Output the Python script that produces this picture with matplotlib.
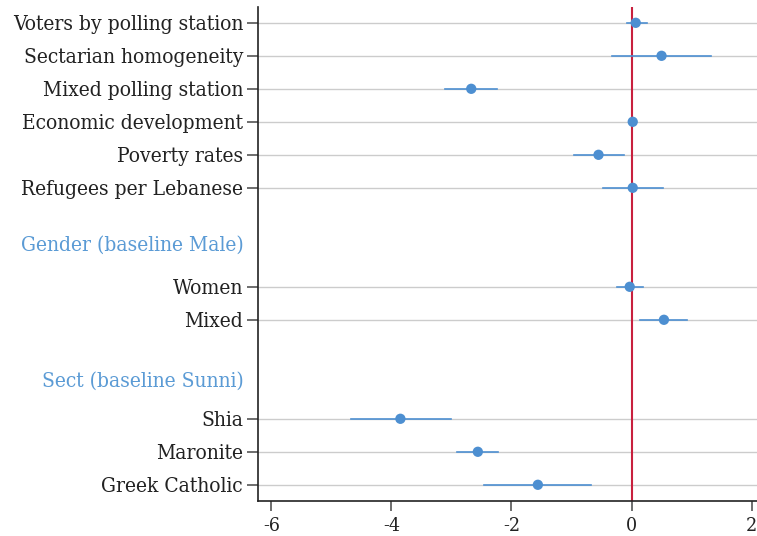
import matplotlib
matplotlib.use("Agg")
import matplotlib.pyplot as plt
from matplotlib.transforms import offset_copy

labels = ["Voters by polling station", "Sectarian homogeneity", "Mixed polling station",
          "Economic development", "Poverty rates", "Refugees per Lebanese",
          "Women", "Mixed", "Shia", "Maronite", "Greek Catholic"]
positions = [0, 1, 2, 3, 4, 5, 8, 9, 12, 13, 14]
coef = [0.07, 0.50, -2.67, 0.02, -0.55, 0.02, -0.03, 0.54, -3.85, -2.56, -1.56]
ci_low = [-0.08, -0.32, -3.10, 0.00, -0.96, -0.48, -0.24, 0.14, -4.68, -2.91, -2.45]
ci_high = [0.25, 1.32, -2.24, 0.04, -0.12, 0.52, 0.19, 0.93, -3.01, -2.22, -0.68]
headers = ["Gender (baseline Male)", "Sect (baseline Sunni)"]
header_pos = [6.75, 10.85]
xticks = [-6, -4, -2, 0, 2]

fam = "DejaVu Serif"
stretch = "condensed"

fig = plt.figure(figsize=(7.57, 5.36), dpi=100)
ax = fig.add_axes([0.3412, 0.066, 0.6588, 0.921])

blue = "#4d8fd1"
for y, lo, hi in zip(positions, ci_low, ci_high):
    ax.plot([lo, hi], [y, y], color=blue, lw=1.2, zorder=3)
ax.axvline(0, color="#c8203e", lw=1.5, zorder=2)
ax.scatter(coef, positions, s=55, color=blue, zorder=4, edgecolors="none")

for y in positions:
    ax.axhline(y, color="#cccccc", lw=1.0, zorder=1)

ax.set_xlim(-6.217, 2.09)
ax.set_ylim(14.48, -0.48)
ax.set_yticks(positions)
ax.set_yticklabels(labels, fontsize=15, family=fam, fontstretch=stretch, color="#222222")
ax.set_xticks(xticks)
ax.set_xticklabels([str(t) for t in xticks], fontsize=14, family=fam, fontstretch=stretch, color="#222222")
ax.tick_params(axis="y", length=8, width=1.2, color="#555555", pad=3)
ax.tick_params(axis="x", length=7, width=1.2, color="#555555", pad=5)
for lab in ax.get_yticklabels():
    lab.set_verticalalignment("center_baseline")

for sp in ["top", "right"]:
    ax.spines[sp].set_visible(False)
for sp in ["left", "bottom"]:
    ax.spines[sp].set_color("#222222")
    ax.spines[sp].set_linewidth(1.2)

for h, hp in zip(headers, header_pos):
    ax.text(-6.217, hp, h, ha="right", va="center",
            fontsize=15, family=fam, fontstretch=stretch, color="#5b9bd5",
            transform=offset_copy(ax.transData, fig=fig, x=-15, y=0, units="dots"))

fig.savefig("out.png", dpi=100)
